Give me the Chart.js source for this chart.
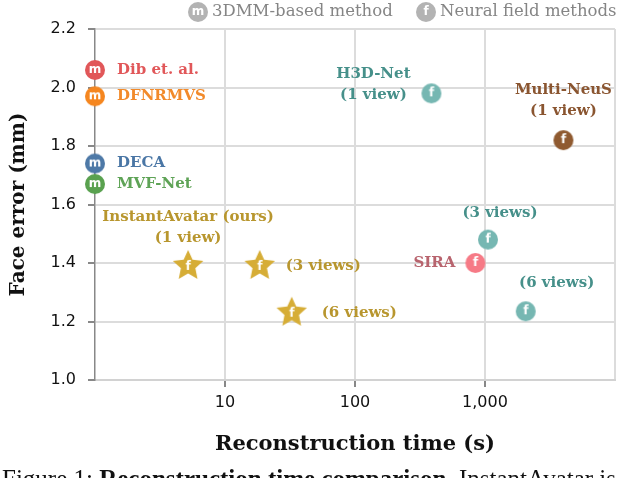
<!DOCTYPE html>
<html lang="en">
<head>
  <meta charset="UTF-8" />
  <title>Reconstruction time vs face error</title>
  <script src="https://cdn.jsdelivr.net/npm/chart.js@4"></script>
  <style>
    html, body { margin: 0; padding: 0; background: #fff; }
    #wrap { position: relative; width: 626px; height: 478px; overflow: hidden; }
    #caption {
      position: absolute; left: 2px; top: 466px; white-space: nowrap;
      font: 25px "Liberation Serif", serif; color: #111; line-height: 1;
    }
  </style>
</head>
<body>
  <div id="wrap">
    <canvas id="chart" width="626" height="478"></canvas>
    <div id="caption">Figure 1: <b>Reconstruction time comparison.</b> InstantAvatar is</div>
  </div>
  <script>
    // data
    const methodNames = ['Dib et. al.', 'DFNRMVS', 'DECA', 'MVF-Net', 'InstantAvatar', 'H3D-Net', 'Multi-NeuS', 'SIRA'];
    const methodKind = ['m', 'm', 'm', 'm', 'f', 'f', 'f', 'f'];
    const methodColor = ['#e15759', '#f5861f', '#4e79a7', '#59a14f', '#d6ad36', '#76b7b2', '#8f5a30', '#f67a86'];
    const labelColor = ['#e15759', '#f28a2a', '#4a76a5', '#5ea356', '#b8962e', '#46908a', '#8a5530', '#b8646e'];

    const pointMethod = ['Dib et. al.', 'DFNRMVS', 'DECA', 'MVF-Net',
      'InstantAvatar', 'InstantAvatar', 'InstantAvatar',
      'H3D-Net', 'H3D-Net', 'H3D-Net', 'Multi-NeuS', 'SIRA'];
    const reconTime = [1, 1, 1, 1, 5.2, 18.5, 32.6, 387, 1054, 2056, 4010, 844];
    const faceError = [2.06, 1.97, 1.74, 1.67, 1.39, 1.39, 1.23, 1.98, 1.48, 1.235, 1.82, 1.40];
    const pointText = [['Dib et. al.'], ['DFNRMVS'], ['DECA'], ['MVF-Net'],
      ['InstantAvatar (ours)', '(1 view)'], ['(3 views)'], ['(6 views)'],
      ['H3D-Net', '(1 view)'], ['(3 views)'], ['(6 views)'],
      ['Multi-NeuS', '(1 view)'], ['SIRA']];

    const xTicks = [10, 100, 1000, 10000];
    const legendItems = [['m', '3DMM-based method'], ['f', 'Neural field methods']];

    // label placement relative to the marker: dx, dy of first line, alignment
    const placement = [
      [22, 0, 'left'], [22, 0, 'left'], [22, 0, 'left'], [22, 0, 'left'],
      [0, -49, 'center'], [26, 0, 'left'], [30, 0, 'left'],
      [-58, -19, 'center'], [12, -26, 'center'], [31, -28, 'center'],
      [0, -50, 'center'], [-20, 0, 'right']
    ];

    function makeMarker(color, letter, star) {
      const size = star ? 34 : 22;
      const c = document.createElement('canvas');
      c.width = c.height = size;
      const g = c.getContext('2d');
      const m = size / 2;
      g.fillStyle = color;
      g.beginPath();
      if (star) {
        for (let i = 0; i < 10; i++) {
          const r = i % 2 ? 7.6 : 16;
          const a = -Math.PI / 2 + i * Math.PI / 5;
          g.lineTo(m + r * Math.cos(a), m + r * Math.sin(a));
        }
        g.closePath();
      } else {
        g.arc(m, m, 10, 0, Math.PI * 2);
      }
      g.fill();
      g.fillStyle = '#fff';
      g.font = 'bold 12px "DejaVu Sans"';
      g.textAlign = 'center';
      g.textBaseline = 'middle';
      g.fillText(letter, m, m + (star ? 1 : 0));
      return c;
    }

    const datasets = methodNames.map((name, k) => {
      const idx = pointMethod.map((p, i) => p === name ? i : -1).filter(i => i >= 0);
      return {
        label: name,
        data: idx.map(i => ({ x: reconTime[i], y: faceError[i], i })),
        pointStyle: makeMarker(methodColor[k], methodKind[k], name === 'InstantAvatar'),
        pointRadius: 10,
        clip: false
      };
    });

    const annotate = {
      id: 'annotate',
      afterDatasetsDraw(chart) {
        const ctx = chart.ctx;
        ctx.save();
        ctx.font = 'bold 15px "DejaVu Serif"';
        ctx.textBaseline = 'middle';
        chart.data.datasets.forEach((ds, k) => {
          const meta = chart.getDatasetMeta(k);
          meta.data.forEach((el, j) => {
            const i = ds.data[j].i;
            const [dx, dy, align] = placement[i];
            ctx.fillStyle = labelColor[k];
            ctx.textAlign = align;
            pointText[i].forEach((line, n) => ctx.fillText(line, el.x + dx, el.y + dy + n * 21));
          });
        });
        ctx.restore();
      },
      afterDraw(chart) {
        const ctx = chart.ctx;
        ctx.save();
        const xs = [198, 426];
        legendItems.forEach(([kind, text], n) => {
          const mk = makeMarker('#b3b3b3', kind, false);
          ctx.drawImage(mk, xs[n] - 11, 1);
          ctx.fillStyle = '#858585';
          ctx.font = '16.5px "DejaVu Serif"';
          ctx.textAlign = 'left';
          ctx.textBaseline = 'middle';
          ctx.fillText(text, xs[n] + 14, 12);
        });
        ctx.restore();
      }
    };

    new Chart(document.getElementById('chart'), {
      type: 'scatter',
      data: { datasets },
      plugins: [annotate],
      options: {
        responsive: false,
        animation: false,
        devicePixelRatio: 1,
        layout: { padding: { top: 29, right: 8, left: 0, bottom: 0 } },
        plugins: { legend: { display: false }, tooltip: { enabled: false } },
        scales: {
          x: {
            type: 'logarithmic',
            min: 1,
            max: 10000,
            afterBuildTicks: s => { s.ticks = xTicks.map(v => ({ value: v })); },
            afterFit: s => { s.height = 98; },
            ticks: {
              autoSkip: false, maxRotation: 0, padding: 6, color: '#111',
              font: { family: 'DejaVu Sans', size: 16 },
              callback: v => v >= 10000 ? '' : v.toLocaleString('en-US')
            },
            grid: {
              color: '#dcdcdc', lineWidth: 2, tickLength: 7,
              tickColor: c => c.tick && c.tick.value >= 10000 ? 'rgba(0,0,0,0)' : '#888'
            },
            border: { color: '#d2d2d2', width: 2 },
            title: {
              display: true, text: 'Reconstruction time (s)', color: '#111',
              font: { family: 'DejaVu Serif', size: 21, weight: 'bold' },
              padding: { top: 0, bottom: 21 }
            }
          },
          y: {
            min: 1,
            max: 2.2,
            afterFit: s => { s.width = 95; },
            ticks: {
              stepSize: 0.2, padding: 12, color: '#111',
              font: { family: 'DejaVu Sans', size: 16 },
              callback: v => v.toFixed(1)
            },
            grid: { color: '#dcdcdc', lineWidth: 2, tickLength: 7, tickColor: '#888' },
            border: { color: '#888', width: 1.5 },
            title: {
              display: true, text: 'Face error (mm)', color: '#111',
              font: { family: 'DejaVu Serif', size: 20, weight: 'bold' },
              padding: { top: 7, bottom: 0 }
            }
          }
        }
      }
    });
  </script>
</body>
</html>
